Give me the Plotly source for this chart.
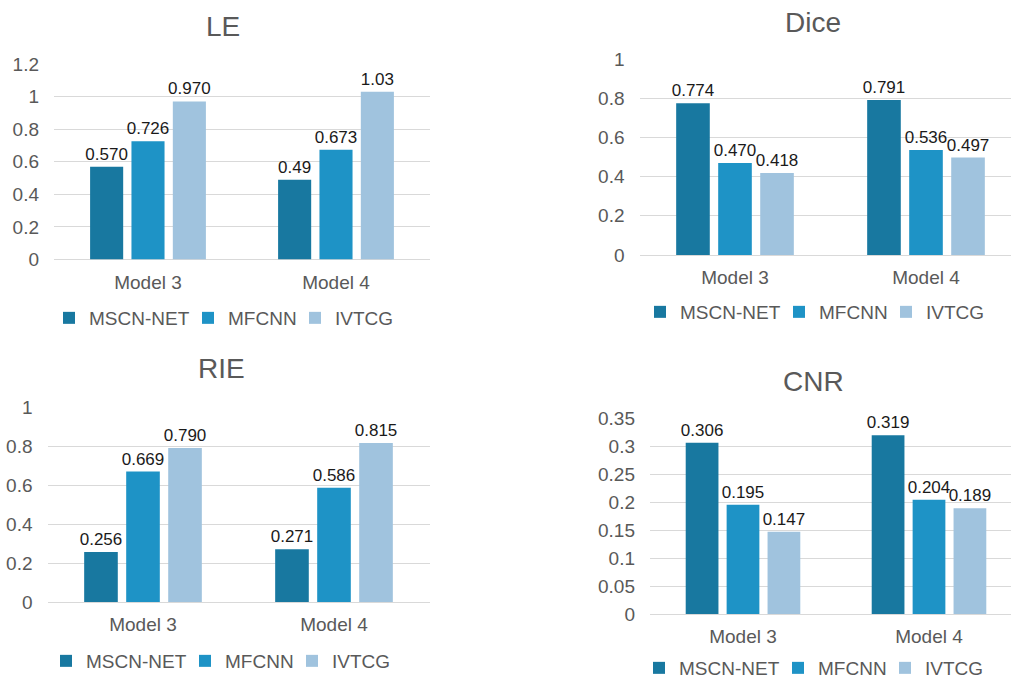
import plotly.graph_objects as go

# Data
models = ["Model 3", "Model 4"]
methods = ["MSCN-NET", "MFCNN", "IVTCG"]
colors = ["#1878A0", "#1E93C6", "#A0C3DE"]

# Per-metric labels (as printed above each bar), one list per method: [Model 3, Model 4]
le_mscn = ["0.570", "0.49"]
le_mfcnn = ["0.726", "0.673"]
le_ivtcg = ["0.970", "1.03"]

dice_mscn = ["0.774", "0.791"]
dice_mfcnn = ["0.470", "0.536"]
dice_ivtcg = ["0.418", "0.497"]

rie_mscn = ["0.256", "0.271"]
rie_mfcnn = ["0.669", "0.586"]
rie_ivtcg = ["0.790", "0.815"]

cnr_mscn = ["0.306", "0.319"]
cnr_mfcnn = ["0.195", "0.204"]
cnr_ivtcg = ["0.147", "0.189"]

W, H = 1011, 681
FONT = "Liberation Sans, Arial, sans-serif"
GRID = "#D9D9D9"
TXT = "#595959"


def px(x):
    return x / W


def py(y):
    return 1 - y / H


# Panel placement in pixels: plot-area x span, y span (top, bottom), y-axis max and step,
# x-range end, legend swatch left edges and legend row centre, title centre.
panels = [
    dict(title="LE", series=[le_mscn, le_mfcnn, le_ivtcg], xd=(54, 430), yd=(64, 259.5),
         yr=1.2, dt=0.2, xe=1.5, leg_x=(64, 203, 310), leg_y=318, tpos=(223, 27)),
    dict(title="Dice", series=[dice_mscn, dice_mfcnn, dice_ivtcg], xd=(639.5, 1011), yd=(59, 255),
         yr=1.0, dt=0.2, xe=-0.5 + (1011 - 639.5) / 191, leg_x=(655, 794, 901), leg_y=312,
         tpos=(813, 22)),
    dict(title="RIE", series=[rie_mscn, rie_mfcnn, rie_ivtcg], xd=(47.5, 429.5), yd=(407, 602),
         yr=1.0, dt=0.2, xe=1.5, leg_x=(61, 200, 307), leg_y=661, tpos=(221, 368)),
    dict(title="CNR", series=[cnr_mscn, cnr_mfcnn, cnr_ivtcg], xd=(650, 1011), yd=(418, 614),
         yr=0.35, dt=0.05, xe=-0.5 + (1011 - 650) / 186, leg_x=(654, 793, 900), leg_y=668,
         tpos=(813, 381)),
]

fig = go.Figure()
annotations = []
layout = {}
leg_idx = 0

for i, p in enumerate(panels, start=1):
    sfx = "" if i == 1 else str(i)
    for m, c, labels, lx in zip(methods, colors, p["series"], p["leg_x"]):
        leg_idx += 1
        leg_name = "legend" if leg_idx == 1 else f"legend{leg_idx}"
        fig.add_trace(go.Bar(
            x=models,
            y=[float(s) for s in labels],
            text=labels,
            textposition="outside",
            constraintext="none",
            cliponaxis=False,
            textfont=dict(family=FONT, size=17, color="#1a1a1a"),
            marker=dict(color=c, line=dict(width=0)),
            name=m,
            xaxis="x" + sfx,
            yaxis="y" + sfx,
            legend=leg_name,
            hoverinfo="skip",
        ))
        # one legend per entry so each swatch sits where it should
        layout[leg_name] = dict(
            orientation="h",
            x=px(lx - 15),
            xanchor="left",
            y=py(p["leg_y"]),
            yanchor="middle",
            font=dict(family=FONT, size=19, color=TXT),
            bgcolor="rgba(0,0,0,0)",
            itemclick=False,
            itemdoubleclick=False,
        )
    layout["xaxis" + sfx] = dict(
        domain=[px(p["xd"][0]), px(p["xd"][1])],
        anchor="y" + sfx,
        range=[-0.5, p["xe"]],
        showgrid=False,
        showline=False,
        zeroline=False,
        ticks="",
        ticklabelstandoff=9,
        tickfont=dict(family=FONT, size=19, color=TXT),
    )
    layout["yaxis" + sfx] = dict(
        domain=[py(p["yd"][1]), py(p["yd"][0])],
        anchor="x" + sfx,
        range=[0, p["yr"]],
        dtick=p["dt"],
        tick0=0,
        showgrid=True,
        gridcolor=GRID,
        gridwidth=1.3,
        zeroline=True,
        zerolinecolor=GRID,
        zerolinewidth=1.3,
        showline=False,
        ticks="",
        ticklabelstandoff=14,
        tickfont=dict(family=FONT, size=19, color=TXT),
    )
    annotations.append(dict(
        text=p["title"],
        x=px(p["tpos"][0]),
        y=py(p["tpos"][1]),
        xref="paper",
        yref="paper",
        xanchor="center",
        yanchor="middle",
        showarrow=False,
        font=dict(family=FONT, size=28, color=TXT),
    ))

fig.update_layout(
    **layout,
    annotations=annotations,
    barmode="group",
    bargap=0.34,
    bargroupgap=0.2,
    width=W,
    height=H,
    margin=dict(l=0, r=0, t=0, b=0, autoexpand=False),
    paper_bgcolor="white",
    plot_bgcolor="white",
    showlegend=True,
)

fig.write_html("out.html")
